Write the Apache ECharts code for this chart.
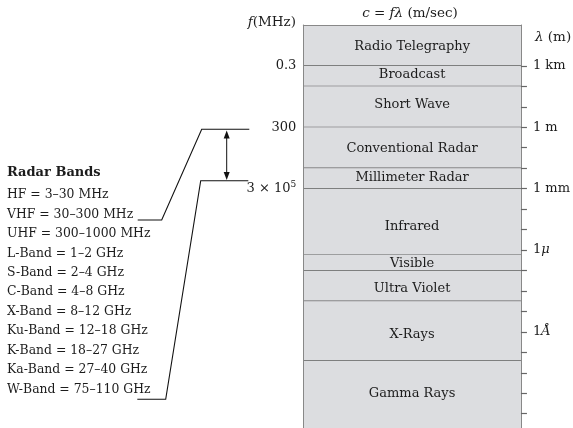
<!DOCTYPE html>
<html>
<head>
<meta charset="utf-8">
<script src="https://cdn.jsdelivr.net/npm/echarts@6.0.0/dist/echarts.min.js"></script>
<style>
  html, body { margin: 0; padding: 0; background: #ffffff; }
  #chart { width: 573px; height: 428px; }
</style>
</head>
<body>
<div id="chart"></div>
<script>
// ---- data (vertical axis = log10 of wavelength in metres) ----
const bandNames = ['Radio Telegraphy', 'Broadcast', 'Short Wave', 'Conventional Radar',
  'Millimeter Radar', 'Infrared', 'Visible', 'Ultra Violet', 'X-Rays', 'Gamma Rays'];
const bandEdges = [5, 3, 2, 0, -2, -3, -6.22, -7.02, -8.5, -11.41, -14.7];
const bandLabelAt = [3.93, 2.55, 1.13, -1.02, -2.48, -4.86, -6.65, -7.87, -10.12, -13.04];
const lambdaTicks = [3, 2, 1, 0, -1, -2, -3, -4, -5, -6, -7, -8, -9, -10, -11, -12, -13, -14];
const lambdaLabelValues = [3, 0, -3, -6, -10];
const lambdaLabels = ['1 km', '1 m', '1 mm', '1{i|μ}', '1{i|Å}'];
const freqLabelValues = [3, 0, -3];
const freqLabels = ['0.3', '300', '3 × 10{sup|5}'];
const radarTitle = 'Radar Bands';
const radarBands = ['HF = 3–30 MHz', 'VHF = 30–300 MHz', 'UHF = 300–1000 MHz', 'L-Band = 1–2 GHz',
  'S-Band = 2–4 GHz', 'C-Band = 4–8 GHz', 'X-Band = 8–12 GHz', 'Ku-Band = 12–18 GHz',
  'K-Band = 18–27 GHz', 'Ka-Band = 27–40 GHz', 'W-Band = 75–110 GHz'];

const FONT = '"DejaVu Serif", "Liberation Serif", serif';
const TXT = '#1c1c1c';
const FS_BAND = 13;
const FS_LIST = 12.4;
const FS_HEAD = 13.5;

const bandData = bandNames.map((n, i) => [0, bandEdges[i], bandEdges[i + 1], bandLabelAt[i]]);

const chart = echarts.init(document.getElementById('chart'), null, { renderer: 'canvas' });

const graphics = [];
// headers
graphics.push({ type: 'text', x: 410, y: 13, style: {
  text: '{i|c} = {i|fλ} (m/sec)', align: 'center', verticalAlign: 'middle',
  fontFamily: FONT, fontSize: FS_HEAD, fill: TXT,
  rich: { i: { fontStyle: 'italic', fontFamily: FONT, fontSize: FS_HEAD, fill: TXT } } } });
graphics.push({ type: 'text', x: 296, y: 22, style: {
  text: '{i|f}(MHz)', align: 'right', verticalAlign: 'middle',
  fontFamily: FONT, fontSize: FS_HEAD, fill: TXT,
  rich: { i: { fontStyle: 'italic', fontFamily: FONT, fontSize: FS_HEAD, fill: TXT } } } });
graphics.push({ type: 'text', x: 535, y: 37, style: {
  text: '{i|λ} (m)', align: 'left', verticalAlign: 'middle',
  fontFamily: FONT, fontSize: FS_HEAD, fill: TXT,
  rich: { i: { fontStyle: 'italic', fontFamily: FONT, fontSize: FS_HEAD, fill: TXT } } } });
// radar list
graphics.push({ type: 'text', x: 7, y: 173, style: {
  text: radarTitle, align: 'left', verticalAlign: 'middle',
  fontFamily: FONT, fontSize: 13, fontWeight: 'bold', fill: TXT } });
radarBands.forEach((t, i) => {
  graphics.push({ type: 'text', x: 7, y: 195 + i * 19.43, style: {
    text: t, align: 'left', verticalAlign: 'middle', fontFamily: FONT, fontSize: FS_LIST, fill: TXT } });
});
// connectors (annotation)
graphics.push({ type: 'polyline', shape: { points: [[137.7, 220], [161.7, 220], [201.7, 129.3], [249.3, 129.3]] },
  style: { stroke: '#111', lineWidth: 1.1, fill: null } });
graphics.push({ type: 'polyline', shape: { points: [[137.3, 399.3], [165.7, 399.3], [200.7, 180.7], [248.3, 180.7]] },
  style: { stroke: '#111', lineWidth: 1.1, fill: null } });
graphics.push({ type: 'line', shape: { x1: 226.7, y1: 134, x2: 226.7, y2: 176 }, style: { stroke: '#111', lineWidth: 1 } });
graphics.push({ type: 'polygon', shape: { points: [[226.7, 130.5], [223.7, 138.5], [229.7, 138.5]] }, style: { fill: '#111' } });
graphics.push({ type: 'polygon', shape: { points: [[226.7, 180], [223.7, 172], [229.7, 172]] }, style: { fill: '#111' } });

const option = {
  animation: false,
  backgroundColor: '#ffffff',
  grid: { left: 303.3, right: 49.7, top: 25, bottom: 0, containLabel: false },
  xAxis: {
    type: 'value', min: 0, max: 1, position: 'top', z: 5,
    axisLine: { show: true, onZero: false, lineStyle: { color: '#888888', width: 1 } },
    axisTick: { show: false }, axisLabel: { show: false }, splitLine: { show: false }
  },
  yAxis: [
    {
      type: 'value', min: -14.7, max: 5, position: 'left', z: 5,
      axisLine: { show: true, onZero: false, lineStyle: { color: '#888888', width: 1 } },
      axisTick: { show: false },
      splitLine: { show: false },
      axisLabel: {
        customValues: freqLabelValues, margin: 7,
        fontFamily: FONT, fontSize: 13, color: TXT,
        formatter: v => freqLabels[freqLabelValues.indexOf(v)] || '',
        rich: { sup: { fontFamily: FONT, fontSize: 9, color: TXT, verticalAlign: 'bottom', padding: [0, 0, 7, 0] } }
      }
    },
    {
      type: 'value', min: -14.7, max: 5, position: 'right', z: 5,
      axisLine: { show: true, onZero: false, lineStyle: { color: '#888888', width: 1 } },
      axisTick: { show: true, customValues: lambdaTicks, length: 6, lineStyle: { color: '#666666', width: 1.2 } },
      splitLine: { show: false },
      axisLabel: {
        customValues: lambdaLabelValues, margin: 12,
        fontFamily: FONT, fontSize: 13, color: TXT,
        formatter: v => lambdaLabels[lambdaLabelValues.indexOf(v)] || '',
        rich: { i: { fontFamily: FONT, fontSize: 13, fontStyle: 'italic', color: TXT } }
      }
    }
  ],
  series: [{
    type: 'custom',
    coordinateSystem: 'cartesian2d',
    xAxisIndex: 0, yAxisIndex: 0,
    z: 1,
    clip: false,
    encode: { x: 0, y: [1, 2, 3] },
    data: bandData,
    renderItem: function (params, api) {
      const i = params.dataIndex;
      const p1 = api.coord([0, api.value(1)]);
      const p2 = api.coord([1, api.value(2)]);
      const pl = api.coord([0.5, api.value(3)]);
      const children = [{
        type: 'rect',
        shape: { x: p1[0], y: p1[1], width: p2[0] - p1[0], height: p2[1] - p1[1] },
        style: { fill: '#dcdde0' }
      }];
      if (i < bandNames.length - 1) {
        children.push({
          type: 'line',
          shape: { x1: p1[0], y1: p2[1], x2: p2[0], y2: p2[1] },
          style: { stroke: '#5f5f5f', lineWidth: 1.3 }
        });
      }
      children.push({
        type: 'text',
        style: { text: bandNames[i], x: pl[0], y: pl[1], align: 'center', verticalAlign: 'middle',
          fontFamily: FONT, fontSize: FS_BAND, fill: TXT }
      });
      return { type: 'group', children: children };
    }
  }],
  graphic: graphics
};
chart.setOption(option);
</script>
</body>
</html>
